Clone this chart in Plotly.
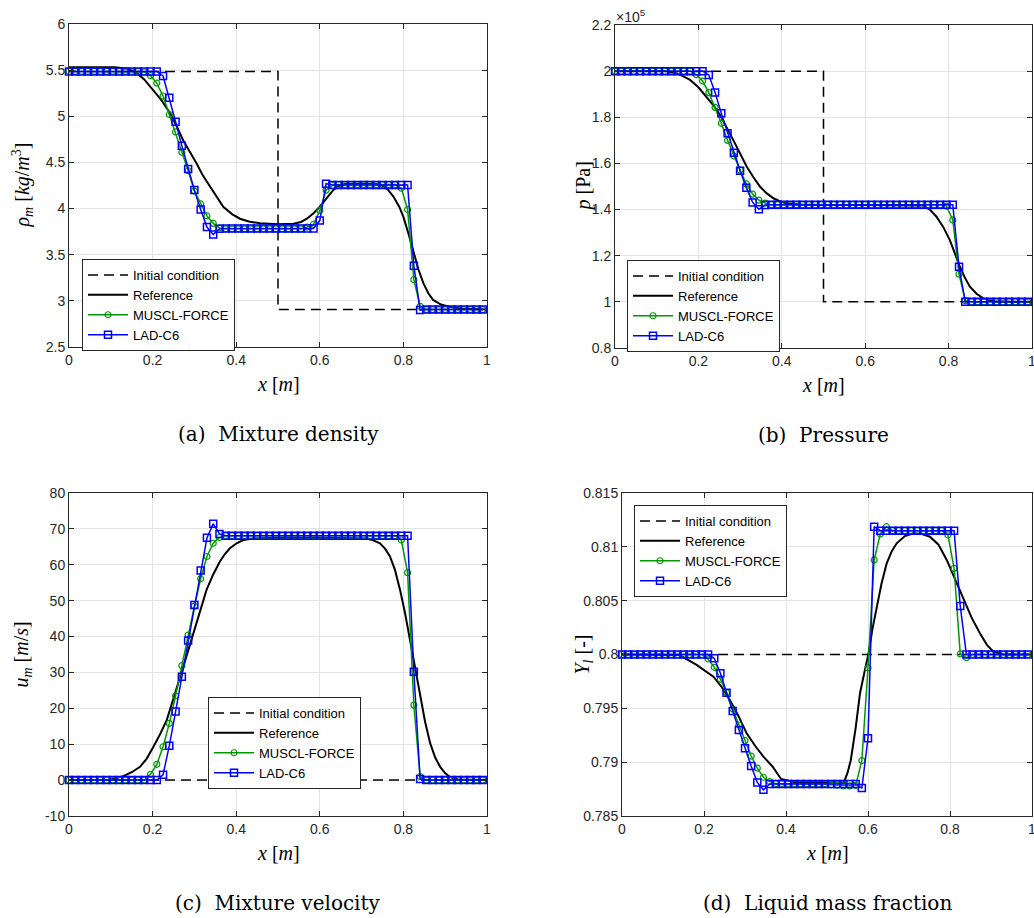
import plotly.graph_objects as go

# ---------------- data ----------------
X_CELLS = [0.000, 0.015, 0.030, 0.045, 0.060, 0.075, 0.090, 0.105, 0.120, 0.135,
           0.150, 0.165, 0.180, 0.195, 0.210, 0.225, 0.240, 0.255, 0.270, 0.285,
           0.300, 0.315, 0.330, 0.345, 0.360, 0.375, 0.390, 0.405, 0.420, 0.435,
           0.450, 0.465, 0.480, 0.495, 0.510, 0.525, 0.540, 0.555, 0.570, 0.585,
           0.600, 0.615, 0.630, 0.645, 0.660, 0.675, 0.690, 0.705, 0.720, 0.735,
           0.750, 0.765, 0.780, 0.795, 0.810, 0.825, 0.840, 0.855, 0.870, 0.885,
           0.900, 0.915, 0.930, 0.945, 0.960, 0.975, 0.990]

IC_X = [0.0, 0.5, 0.5, 1.0]

# (a) mixture density
RHO_IC = [5.486, 5.486, 2.905, 2.905]
RHO_REF_X = [0, 0.11, 0.14, 0.162, 0.18, 0.202, 0.222, 0.242, 0.258, 0.273,
             0.29, 0.305, 0.32, 0.337, 0.353, 0.369, 0.39, 0.409, 0.43, 0.457,
             0.5, 0.537, 0.555, 0.569, 0.585, 0.6, 0.616, 0.632, 0.645, 0.66,
             0.7, 0.744, 0.762, 0.776, 0.79, 0.80, 0.812, 0.824, 0.836, 0.848,
             0.86, 0.871, 0.89, 0.911, 0.94, 1.0]
RHO_REF = [5.53, 5.53, 5.515, 5.47, 5.40, 5.285, 5.17, 5.03, 4.89, 4.74,
           4.61, 4.49, 4.36, 4.24, 4.12, 4.02, 3.94, 3.89, 3.86, 3.84,
           3.83, 3.835, 3.855, 3.89, 3.95, 4.02, 4.11, 4.20, 4.245, 4.265,
           4.27, 4.265, 4.21, 4.13, 4.02, 3.91, 3.73, 3.52, 3.34, 3.19,
           3.08, 3.01, 2.96, 2.935, 2.915, 2.905]
RHO_MUSCL = [5.486, 5.486, 5.486, 5.486, 5.486, 5.486, 5.486, 5.486, 5.486, 5.486,
             5.486, 5.486, 5.48, 5.44, 5.36, 5.22, 5.02, 4.83, 4.61, 4.41,
             4.19, 4.05, 3.92, 3.84, 3.79, 3.78, 3.78, 3.78, 3.78, 3.78,
             3.78, 3.78, 3.78, 3.78, 3.78, 3.78, 3.78, 3.78, 3.80, 3.83,
             3.98, 4.20, 4.25, 4.26, 4.26, 4.26, 4.26, 4.26, 4.26, 4.26,
             4.26, 4.26, 4.26, 4.22, 3.99, 3.23, 2.94, 2.905, 2.905, 2.905,
             2.905, 2.905, 2.905, 2.905, 2.905, 2.905, 2.905]
RHO_LAD = [5.486, 5.486, 5.486, 5.486, 5.486, 5.486, 5.486, 5.486, 5.486, 5.486,
           5.486, 5.486, 5.486, 5.486, 5.486, 5.437, 5.20, 4.94, 4.68, 4.43,
           4.20, 3.99, 3.80, 3.72, 3.78, 3.785, 3.785, 3.785, 3.785, 3.785,
           3.785, 3.785, 3.785, 3.785, 3.785, 3.785, 3.785, 3.785, 3.785, 3.785,
           3.87, 4.27, 4.255, 4.255, 4.255, 4.255, 4.255, 4.255, 4.255, 4.255,
           4.255, 4.255, 4.255, 4.255, 4.255, 3.38, 2.90, 2.905, 2.905, 2.905,
           2.905, 2.905, 2.905, 2.905, 2.905, 2.905, 2.905]

# (b) pressure [Pa]
P_IC = [2.0e5, 2.0e5, 1.0e5, 1.0e5]
P_REF_X = [0, 0.12, 0.15, 0.18, 0.20, 0.22, 0.236, 0.252, 0.268, 0.284,
           0.30, 0.316, 0.332, 0.348, 0.364, 0.38, 0.396, 0.412, 0.44, 0.5,
           0.6, 0.7, 0.739, 0.755, 0.771, 0.787, 0.803, 0.815, 0.827, 0.839,
           0.851, 0.867, 0.883, 0.91, 0.95, 1.0]
P_REF = [2.000e5, 2.000e5, 1.990e5, 1.962e5, 1.930e5, 1.889e5, 1.852e5, 1.810e5, 1.757e5, 1.700e5,
         1.643e5, 1.586e5, 1.540e5, 1.499e5, 1.470e5, 1.449e5, 1.435e5, 1.427e5, 1.422e5, 1.420e5,
         1.420e5, 1.420e5, 1.418e5, 1.400e5, 1.369e5, 1.325e5, 1.268e5, 1.210e5, 1.152e5, 1.105e5,
         1.066e5, 1.035e5, 1.015e5, 1.003e5, 1.000e5, 1.000e5]
P_MUSCL = [2.000e5, 2.000e5, 2.000e5, 2.000e5, 2.000e5, 2.000e5, 2.000e5, 2.000e5, 2.000e5, 2.000e5,
           2.000e5, 2.000e5, 2.000e5, 1.985e5, 1.957e5, 1.907e5, 1.843e5, 1.774e5, 1.700e5, 1.632e5,
           1.571e5, 1.511e5, 1.467e5, 1.441e5, 1.428e5, 1.421e5, 1.421e5, 1.421e5, 1.421e5, 1.421e5,
           1.421e5, 1.421e5, 1.421e5, 1.421e5, 1.421e5, 1.421e5, 1.421e5, 1.421e5, 1.421e5, 1.421e5,
           1.421e5, 1.421e5, 1.421e5, 1.421e5, 1.421e5, 1.421e5, 1.421e5, 1.421e5, 1.421e5, 1.421e5,
           1.421e5, 1.421e5, 1.421e5, 1.415e5, 1.355e5, 1.120e5, 1.005e5, 1.000e5, 1.000e5, 1.000e5,
           1.000e5, 1.000e5, 1.000e5, 1.000e5, 1.000e5, 1.000e5, 1.000e5]
P_LAD = [2.000e5, 2.000e5, 2.000e5, 2.000e5, 2.000e5, 2.000e5, 2.000e5, 2.000e5, 2.000e5, 2.000e5,
         2.000e5, 2.000e5, 2.000e5, 2.000e5, 2.000e5, 1.983e5, 1.907e5, 1.817e5, 1.731e5, 1.646e5,
         1.568e5, 1.495e5, 1.431e5, 1.401e5, 1.420e5, 1.421e5, 1.421e5, 1.421e5, 1.421e5, 1.421e5,
         1.421e5, 1.421e5, 1.421e5, 1.421e5, 1.421e5, 1.421e5, 1.421e5, 1.421e5, 1.421e5, 1.421e5,
         1.421e5, 1.421e5, 1.421e5, 1.421e5, 1.421e5, 1.421e5, 1.421e5, 1.421e5, 1.421e5, 1.421e5,
         1.421e5, 1.421e5, 1.421e5, 1.421e5, 1.421e5, 1.152e5, 1.000e5, 1.000e5, 1.000e5, 1.000e5,
         1.000e5, 1.000e5, 1.000e5, 1.000e5, 1.000e5, 1.000e5, 1.000e5]

# (c) mixture velocity
U_IC = [0.0, 0.0, 0.0, 0.0]
U_REF_X = [0, 0.10, 0.13, 0.15, 0.17, 0.186, 0.202, 0.218, 0.234, 0.25,
           0.266, 0.282, 0.297, 0.313, 0.329, 0.345, 0.361, 0.373, 0.385, 0.401,
           0.417, 0.44, 0.5, 0.6, 0.68, 0.712, 0.728, 0.744, 0.756, 0.768,
           0.78, 0.792, 0.804, 0.816, 0.828, 0.84, 0.852, 0.864, 0.876, 0.888,
           0.90, 0.911, 0.93, 1.0]
U_REF = [0, 0.1, 1.1, 2.2, 3.7, 6.0, 9.3, 12.8, 16.8, 22.5,
         28.8, 34.9, 40.9, 47.0, 53.0, 57.3, 60.9, 63.0, 64.6, 66.0,
         66.9, 67.3, 67.5, 67.5, 67.5, 67.3, 66.8, 66.0, 64.5, 62.3,
         58.5, 53.0, 46.5, 39.0, 31.0, 23.2, 16.2, 10.3, 6.3, 3.7,
         1.9, 0.9, 0.2, 0]
U_MUSCL = [0, 0, 0, 0, 0, 0, 0, 0, 0, 0,
           0, 0, 0, 1.6, 4.4, 9.3, 15.8, 23.5, 31.9, 40.4,
           48.5, 56.1, 62.3, 66.0, 67.6, 68.1, 68.1, 68.1, 68.1, 68.1,
           68.1, 68.1, 68.1, 68.1, 68.1, 68.1, 68.1, 68.1, 68.1, 68.1,
           68.1, 68.1, 68.1, 68.1, 68.1, 68.1, 68.1, 68.1, 68.1, 68.1,
           68.1, 68.1, 68.1, 66.9, 57.8, 20.9, 1.0, 0, 0, 0,
           0, 0, 0, 0, 0, 0, 0]
U_LAD = [0, 0, 0, 0, 0, 0, 0, 0, 0, 0,
         0, 0, 0, 0, 0, 1.5, 9.6, 19.1, 28.8, 38.9,
         48.8, 58.4, 67.5, 71.4, 68.6, 68.1, 68.1, 68.1, 68.1, 68.1,
         68.1, 68.1, 68.1, 68.1, 68.1, 68.1, 68.1, 68.1, 68.1, 68.1,
         68.1, 68.1, 68.1, 68.1, 68.1, 68.1, 68.1, 68.1, 68.1, 68.1,
         68.1, 68.1, 68.1, 68.1, 68.1, 30.2, 0.3, 0, 0, 0,
         0, 0, 0, 0, 0, 0, 0]

# (d) liquid mass fraction
Y_IC = [0.8, 0.8, 0.8, 0.8]
Y_REF_X = [0, 0.14, 0.182, 0.223, 0.243, 0.263, 0.284, 0.304, 0.325, 0.345,
           0.367, 0.388, 0.42, 0.5, 0.541, 0.55, 0.558, 0.57, 0.5805, 0.591,
           0.6008, 0.611, 0.621, 0.633, 0.6456, 0.658, 0.670, 0.69, 0.7106, 0.73,
           0.751, 0.772, 0.792, 0.812, 0.8325, 0.853, 0.873, 0.89, 0.9056, 0.93,
           1.0]
Y_REF = [0.8, 0.79995, 0.79903, 0.79794, 0.79700, 0.79577, 0.79430, 0.79268, 0.79150, 0.79051,
         0.78960, 0.78844, 0.78815, 0.78812, 0.78812, 0.78900, 0.79018, 0.79320, 0.79640, 0.79830,
         0.80000, 0.80240, 0.80444, 0.80660, 0.80847, 0.80960, 0.81033, 0.81100, 0.81126, 0.81120,
         0.81094, 0.81020, 0.80878, 0.80700, 0.80506, 0.80340, 0.80197, 0.80090, 0.80026, 0.80000,
         0.8]
Y_MUSCL = [0.8, 0.8, 0.8, 0.8, 0.8, 0.8, 0.8, 0.8, 0.8, 0.8,
           0.8, 0.8, 0.8, 0.8, 0.79958, 0.79881, 0.79772, 0.79645, 0.79494, 0.79345,
           0.79200, 0.79057, 0.78945, 0.78860, 0.78820, 0.78800, 0.78800, 0.78800, 0.78800, 0.78800,
           0.78800, 0.78800, 0.78800, 0.78800, 0.78790, 0.78785, 0.78780, 0.78780, 0.78785, 0.79015,
           0.79877, 0.80878, 0.81120, 0.81187, 0.81150, 0.81150, 0.81150, 0.81150, 0.81150, 0.81150,
           0.81150, 0.81150, 0.81150, 0.81110, 0.80800, 0.80005, 0.79970, 0.8, 0.8, 0.8,
           0.8, 0.8, 0.8, 0.8, 0.8, 0.8, 0.8]
Y_LAD = [0.8, 0.8, 0.8, 0.8, 0.8, 0.8, 0.8, 0.8, 0.8, 0.8,
         0.8, 0.8, 0.8, 0.8, 0.8, 0.79965, 0.79825, 0.79645, 0.79475, 0.79299,
         0.79129, 0.78964, 0.78812, 0.78743, 0.78797, 0.78797, 0.78797, 0.78797, 0.78797, 0.78797,
         0.78797, 0.78797, 0.78797, 0.78797, 0.78797, 0.78797, 0.78797, 0.78797, 0.78797, 0.78760,
         0.79222, 0.81187, 0.81150, 0.81150, 0.81150, 0.81150, 0.81150, 0.81150, 0.81150, 0.81150,
         0.81150, 0.81150, 0.81150, 0.81150, 0.81150, 0.80450, 0.8, 0.8, 0.8, 0.8,
         0.8, 0.8, 0.8, 0.8, 0.8, 0.8, 0.8]

SERIES_NAMES = ["Initial condition", "Reference", "MUSCL-FORCE", "LAD-C6"]

X_TICKS = [0, 0.2, 0.4, 0.6, 0.8, 1.0]
X_TICKTEXT = ["0", "0.2", "0.4", "0.6", "0.8", "1"]
RHO_TICKS = [2.5, 3, 3.5, 4, 4.5, 5, 5.5, 6]
RHO_TICKTEXT = ["2.5", "3", "3.5", "4", "4.5", "5", "5.5", "6"]
P_TICKS = [0.8e5, 1.0e5, 1.2e5, 1.4e5, 1.6e5, 1.8e5, 2.0e5, 2.2e5]
P_TICKTEXT = ["0.8", "1", "1.2", "1.4", "1.6", "1.8", "2", "2.2"]
U_TICKS = [-10, 0, 10, 20, 30, 40, 50, 60, 70, 80]
U_TICKTEXT = ["-10", "0", "10", "20", "30", "40", "50", "60", "70", "80"]
Y_TICKS = [0.785, 0.79, 0.795, 0.8, 0.805, 0.81, 0.815]
Y_TICKTEXT = ["0.785", "0.79", "0.795", "0.8", "0.805", "0.81", "0.815"]

# ---------------- layout helpers ----------------
W, H = 1034, 918
AX_COLOR = "#262626"
GRID_COLOR = "#e4e4e4"
GREEN = "rgb(0,153,0)"
BLUE = "rgb(0,0,255)"
SANS = "Liberation Sans, Arial, sans-serif"
SERIF = "Liberation Serif, Times New Roman, serif"
CAP_SERIF = "DejaVu Serif, serif"

def fx(p):
    return p / W

def fy(p):
    return 1 - p / H

panels = [
    dict(key="", xdom=(69, 487), ydom=(24, 347), yr=[2.5, 6], yt=RHO_TICKS, ytt=RHO_TICKTEXT,
         ic=RHO_IC, refx=RHO_REF_X, ref=RHO_REF, muscl=RHO_MUSCL, lad=RHO_LAD,
         leg=(82, 259), ytitle="<i>ρ<sub>m</sub></i> [<i>kg</i>/<i>m</i><sup>3</sup>]", ytx=22,
         cap="(a)\u00a0 Mixture density"),
    dict(key="2", xdom=(615, 1032), ydom=(25, 348), yr=[0.8e5, 2.2e5], yt=P_TICKS, ytt=P_TICKTEXT,
         ic=P_IC, refx=P_REF_X, ref=P_REF, muscl=P_MUSCL, lad=P_LAD,
         leg=(627, 260), ytitle="<i>p</i> [Pa]", ytx=583,
         cap="(b)\u00a0 Pressure"),
    dict(key="3", xdom=(69, 487), ydom=(493, 816), yr=[-10, 80], yt=U_TICKS, ytt=U_TICKTEXT,
         ic=U_IC, refx=U_REF_X, ref=U_REF, muscl=U_MUSCL, lad=U_LAD,
         leg=(208, 697), ytitle="<i>u<sub>m</sub></i> [<i>m</i>/<i>s</i>]", ytx=22,
         cap="(c)\u00a0 Mixture velocity"),
    dict(key="4", xdom=(622, 1032), ydom=(493, 816), yr=[0.785, 0.815], yt=Y_TICKS, ytt=Y_TICKTEXT,
         ic=Y_IC, refx=Y_REF_X, ref=Y_REF, muscl=Y_MUSCL, lad=Y_LAD,
         leg=(634, 505), ytitle="<i>Y<sub>l</sub></i> [-]", ytx=583,
         cap="(d)\u00a0 Liquid mass fraction"),
]

fig = go.Figure()
annotations = []
layout_updates = {}

for i, p in enumerate(panels):
    k = p["key"]
    xa, ya = "x" + k, "y" + k
    leg = "legend" + k
    fig.add_trace(go.Scatter(x=IC_X, y=p["ic"], mode="lines", name=SERIES_NAMES[0],
                             line=dict(color="black", width=1.5, dash="10px,6px"),
                             xaxis=xa, yaxis=ya, legend=leg, hoverinfo="skip"))
    fig.add_trace(go.Scatter(x=p["refx"], y=p["ref"], mode="lines", name=SERIES_NAMES[1],
                             line=dict(color="black", width=2),
                             xaxis=xa, yaxis=ya, legend=leg))
    fig.add_trace(go.Scatter(x=X_CELLS, y=p["muscl"], mode="lines+markers", name=SERIES_NAMES[2],
                             line=dict(color=GREEN, width=1.5),
                             marker=dict(symbol="circle-open", size=6, color=GREEN,
                                         line=dict(width=1.2, color=GREEN)),
                             cliponaxis=False, xaxis=xa, yaxis=ya, legend=leg))
    fig.add_trace(go.Scatter(x=X_CELLS, y=p["lad"], mode="lines+markers", name=SERIES_NAMES[3],
                             line=dict(color=BLUE, width=1.5),
                             marker=dict(symbol="square-open", size=7, color=BLUE,
                                         line=dict(width=1.5, color=BLUE)),
                             cliponaxis=False, xaxis=xa, yaxis=ya, legend=leg))

    axis_common = dict(showline=True, linecolor=AX_COLOR, linewidth=1, mirror="allticks",
                       ticks="inside", ticklen=5, tickcolor=AX_COLOR, tickwidth=1,
                       showgrid=True, gridcolor=GRID_COLOR, gridwidth=1, zeroline=False,
                       tickfont=dict(family=SANS, size=14, color=AX_COLOR),
                       automargin=False, tickmode="array", ticklabeloverflow="allow")
    layout_updates["xaxis" + k] = dict(axis_common, domain=[fx(p["xdom"][0]), fx(p["xdom"][1])],
                                       range=[0, 1], tickvals=X_TICKS, ticktext=X_TICKTEXT,
                                       anchor=ya)
    layout_updates["yaxis" + k] = dict(axis_common, domain=[fy(p["ydom"][1]), fy(p["ydom"][0])],
                                       range=p["yr"], tickvals=p["yt"], ticktext=p["ytt"],
                                       anchor=xa)
    layout_updates[leg] = dict(x=fx(p["leg"][0]), y=fy(p["leg"][1]), xanchor="left", yanchor="top",
                               bgcolor="white", bordercolor=AX_COLOR, borderwidth=1,
                               font=dict(family=SANS, size=13, color="black"),
                               itemwidth=40, tracegroupgap=0)

    xc = (p["xdom"][0] + p["xdom"][1]) / 2
    yc = (p["ydom"][0] + p["ydom"][1]) / 2
    annotations.append(dict(x=fx(p["ytx"]), y=fy(yc), xref="paper", yref="paper",
                            text=p["ytitle"], textangle=-90, showarrow=False,
                            font=dict(family=SERIF, size=20, color="black"),
                            xanchor="center", yanchor="middle"))
    annotations.append(dict(x=fx(xc), y=fy(p["ydom"][1] + 37), xref="paper", yref="paper",
                            text="<i>x</i> [<i>m</i>]", showarrow=False,
                            font=dict(family=SERIF, size=20, color="black"),
                            xanchor="center", yanchor="middle"))
    annotations.append(dict(x=fx(xc), y=fy(p["ydom"][1] + 87), xref="paper", yref="paper",
                            text=p["cap"], showarrow=False,
                            font=dict(family=CAP_SERIF, size=20, color="black"),
                            xanchor="center", yanchor="middle"))

annotations.append(dict(x=fx(614), y=fy(16), xref="paper", yref="paper",
                        text="×10<sup>5</sup>", showarrow=False,
                        font=dict(family=SANS, size=14, color=AX_COLOR),
                        xanchor="left", yanchor="middle"))

fig.update_layout(width=W, height=H, margin=dict(l=0, r=0, t=0, b=0),
                  paper_bgcolor="white", plot_bgcolor="white",
                  annotations=annotations, showlegend=True, **layout_updates)

fig.write_html("out.html",
               config={"displayModeBar": False},
               post_script="document.documentElement.style.margin='0';"
                           "document.body.style.margin='0';"
                           "document.body.style.padding='0';"
                           "document.body.style.overflow='hidden';")
